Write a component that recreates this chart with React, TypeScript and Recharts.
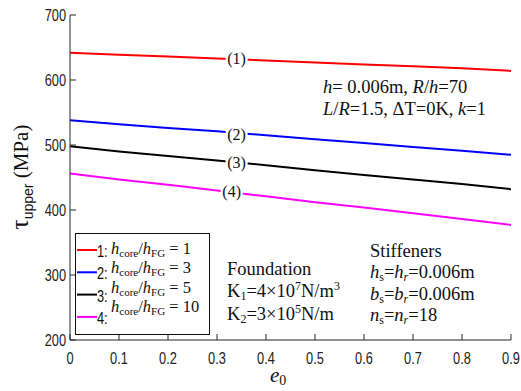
import React from "react";
import {
  LineChart,
  Line,
  XAxis,
  YAxis,
  ReferenceDot,
} from "recharts";

// values
const e0 = [0, 0.1, 0.2, 0.3, 0.4, 0.5, 0.6, 0.7, 0.8, 0.9];
const ratio1 = [642, 639, 636, 633, 630, 627, 624, 621, 618, 614];
const ratio3 = [538, 532, 526, 521, 515, 509, 503, 497, 491, 485];
const ratio5 = [498, 490, 483, 476, 469, 461, 454, 447, 440, 432];
const ratio10 = [456, 447, 439, 430, 421, 412, 404, 395, 386, 377];

const xTicks = [0, 0.1, 0.2, 0.3, 0.4, 0.5, 0.6, 0.7, 0.8, 0.9];
const yTicks = [200, 300, 400, 500, 600, 700];

const series = [
  { key: "r1", values: ratio1, color: "#ff0000", ratio: "1", tag: "(1)", labelX: 0.34, labelY: 633 },
  { key: "r3", values: ratio3, color: "#0000ff", ratio: "3", tag: "(2)", labelX: 0.34, labelY: 516 },
  { key: "r5", values: ratio5, color: "#000000", ratio: "5", tag: "(3)", labelX: 0.34, labelY: 473 },
  { key: "r10", values: ratio10, color: "#ff00ff", ratio: "10", tag: "(4)", labelX: 0.33, labelY: 428 },
];

const data = e0.map((x, i) => {
  const row: Record<string, number> = { e0: x };
  series.forEach((s) => (row[s.key] = s.values[i]));
  return row;
});

const SERIF = "Liberation Serif, Times New Roman, serif";
const SANS = "Liberation Sans, Arial, sans-serif";
const AXIS = "#262626";

const serif = { fontFamily: SERIF };

// MATLAB-ish condensed tick labels
const XTick = ({ x, y, payload }: any) => (
  <text
    transform={`translate(${x},${y}) scale(0.8,1)`}
    textAnchor="middle"
    dy="0.72em"
    fontSize={16}
    fill="#222"
    style={{ fontFamily: SANS }}
  >
    {payload.value === 0 ? "0" : Number(payload.value).toFixed(1)}
  </text>
);

const YTick = ({ x, y, payload }: any) => (
  <text
    transform={`translate(${x},${y}) scale(0.8,1)`}
    textAnchor="end"
    dy="0.36em"
    fontSize={16}
    fill="#222"
    style={{ fontFamily: SANS }}
  >
    {payload.value}
  </text>
);

const TagShape = ({ cx, cy, tag }: { cx?: number; cy?: number; tag: string }) => {
  if (cx == null || cy == null) return null;
  return (
    <g>
      <rect x={cx - 11} y={cy - 7} width={22} height={14} fill="#fff" />
      <text x={cx} y={cy + 5} textAnchor="middle" style={serif} fontSize={16} fill="#111">
        {tag}
      </text>
    </g>
  );
};

const Overlay = () => (
  <svg
    width={521}
    height={391}
    style={{ position: "absolute", left: 0, top: 0, pointerEvents: "none" }}
  >
    {/* y axis title */}
    <text
      x={28}
      y={177}
      transform="rotate(-90 28 177)"
      textAnchor="middle"
      fill="#111"
      style={serif}
    >
      <tspan fontSize={25}>τ</tspan>
      <tspan fontSize={14} style={{ fontFamily: SANS }} dy={5}>upper</tspan>
      <tspan fontSize={21} dy={-5}> (MPa)</tspan>
    </text>
    {/* x axis title */}
    <text x={270} y={382} fill="#111" style={serif}>
      <tspan fontSize={21} fontStyle="italic">e</tspan>
      <tspan fontSize={14} dy={3}>0</tspan>
    </text>

    {/* parameter notes */}
    <g style={serif} fontSize={18.5} fill="#111">
      <text x={323} y={93}>
        <tspan fontStyle="italic">h</tspan>= 0.006m, <tspan fontStyle="italic">R</tspan>/
        <tspan fontStyle="italic">h</tspan>=70
      </text>
      <text x={323} y={115}>
        <tspan fontStyle="italic">L</tspan>/<tspan fontStyle="italic">R</tspan>=1.5, ΔT=0K,{" "}
        <tspan fontStyle="italic">k</tspan>=1
      </text>

      <text x={227} y={275}>Foundation</text>
      <text x={227} y={297}>
        K<tspan fontSize={12} dy={3}>1</tspan>
        <tspan dy={-3}>=4×10</tspan>
        <tspan fontSize={12} dy={-7}>7</tspan>
        <tspan dy={7}>N/m</tspan>
        <tspan fontSize={12} dy={-7}>3</tspan>
      </text>
      <text x={227} y={320}>
        K<tspan fontSize={12} dy={3}>2</tspan>
        <tspan dy={-3}>=3×10</tspan>
        <tspan fontSize={12} dy={-7}>5</tspan>
        <tspan dy={7}>N/m</tspan>
      </text>

      <text x={370} y={257}>Stiffeners</text>
      <text x={370} y={278}>
        <tspan fontStyle="italic">h</tspan>
        <tspan fontSize={12} dy={3}>s</tspan>
        <tspan dy={-3}>=</tspan>
        <tspan fontStyle="italic">h</tspan>
        <tspan fontSize={12} dy={3} fontStyle="italic">r</tspan>
        <tspan dy={-3}>=0.006m</tspan>
      </text>
      <text x={370} y={300}>
        <tspan fontStyle="italic">b</tspan>
        <tspan fontSize={12} dy={3}>s</tspan>
        <tspan dy={-3}>=</tspan>
        <tspan fontStyle="italic">b</tspan>
        <tspan fontSize={12} dy={3} fontStyle="italic">r</tspan>
        <tspan dy={-3}>=0.006m</tspan>
      </text>
      <text x={370} y={321}>
        <tspan fontStyle="italic">n</tspan>
        <tspan fontSize={12} dy={3}>s</tspan>
        <tspan dy={-3}>=</tspan>
        <tspan fontStyle="italic">n</tspan>
        <tspan fontSize={12} dy={3} fontStyle="italic">r</tspan>
        <tspan dy={-3}>=18</tspan>
      </text>
    </g>

    {/* legend box */}
    <rect x={75.5} y={233.5} width={134} height={101} fill="#fff" stroke="#111" strokeWidth={1} />
    {series.map((s, i) => (
      <g key={s.key}>
        <line x1={77} x2={97} y1={250 + i * 22.3} y2={250 + i * 22.3} stroke={s.color} strokeWidth={2} />
        <text
          transform={`translate(97,${257 + i * 22.3}) scale(0.8,1)`}
          style={{ fontFamily: SANS }}
          fontSize={16}
          fill="#111"
        >
          {i + 1}:
        </text>
        <text x={111} y={254 + i * 19.3} style={serif} fontSize={16.5} fill="#111">
          <tspan fontStyle="italic">h</tspan>
          <tspan fontSize={11} dy={3}>core</tspan>
          <tspan dy={-3}>/</tspan>
          <tspan fontStyle="italic">h</tspan>
          <tspan fontSize={11} dy={3}>FG</tspan>
          <tspan dy={-3}> = {s.ratio}</tspan>
        </text>
      </g>
    ))}
  </svg>
);

export default function App() {
  return (
    <div style={{ position: "absolute", left: 0, top: 0, width: 521, height: 391, background: "#fff" }}>
      <LineChart
        width={521}
        height={391}
        data={data}
        margin={{ top: 15, right: 10, bottom: 21, left: 30 }}
      >
        <XAxis
          dataKey="e0"
          type="number"
          domain={[0, 0.9]}
          ticks={xTicks}
          allowDataOverflow
          height={30}
          tickSize={-6}
          tickMargin={18}
          stroke={AXIS}
          tick={<XTick />}
        />
        <XAxis
          xAxisId="top"
          orientation="top"
          type="number"
          domain={[0, 0.9]}
          ticks={xTicks}
          allowDataOverflow
          height={0}
          tickSize={-6}
          tick={false}
          stroke={AXIS}
        />
        <YAxis
          type="number"
          domain={[200, 700]}
          ticks={yTicks}
          allowDataOverflow
          width={40}
          tickSize={-6}
          tickMargin={10}
          stroke={AXIS}
          tick={<YTick />}
        />
        <YAxis
          yAxisId="right"
          orientation="right"
          type="number"
          domain={[200, 700]}
          ticks={yTicks}
          allowDataOverflow
          width={0}
          tickSize={-6}
          tick={false}
          stroke="#9a9a9a"
        />
        {series.map((s) => (
          <Line
            key={s.key}
            dataKey={s.key}
            stroke={s.color}
            strokeWidth={2}
            dot={false}
            type="linear"
            isAnimationActive={false}
          />
        ))}
        {series.map((s) => (
          <ReferenceDot
            key={s.key + "-tag"}
            x={s.labelX}
            y={s.labelY}
            r={0}
            ifOverflow="visible"
            shape={(p: any) => <TagShape cx={p.cx} cy={p.cy} tag={s.tag} />}
          />
        ))}
      </LineChart>
      <Overlay />
    </div>
  );
}
